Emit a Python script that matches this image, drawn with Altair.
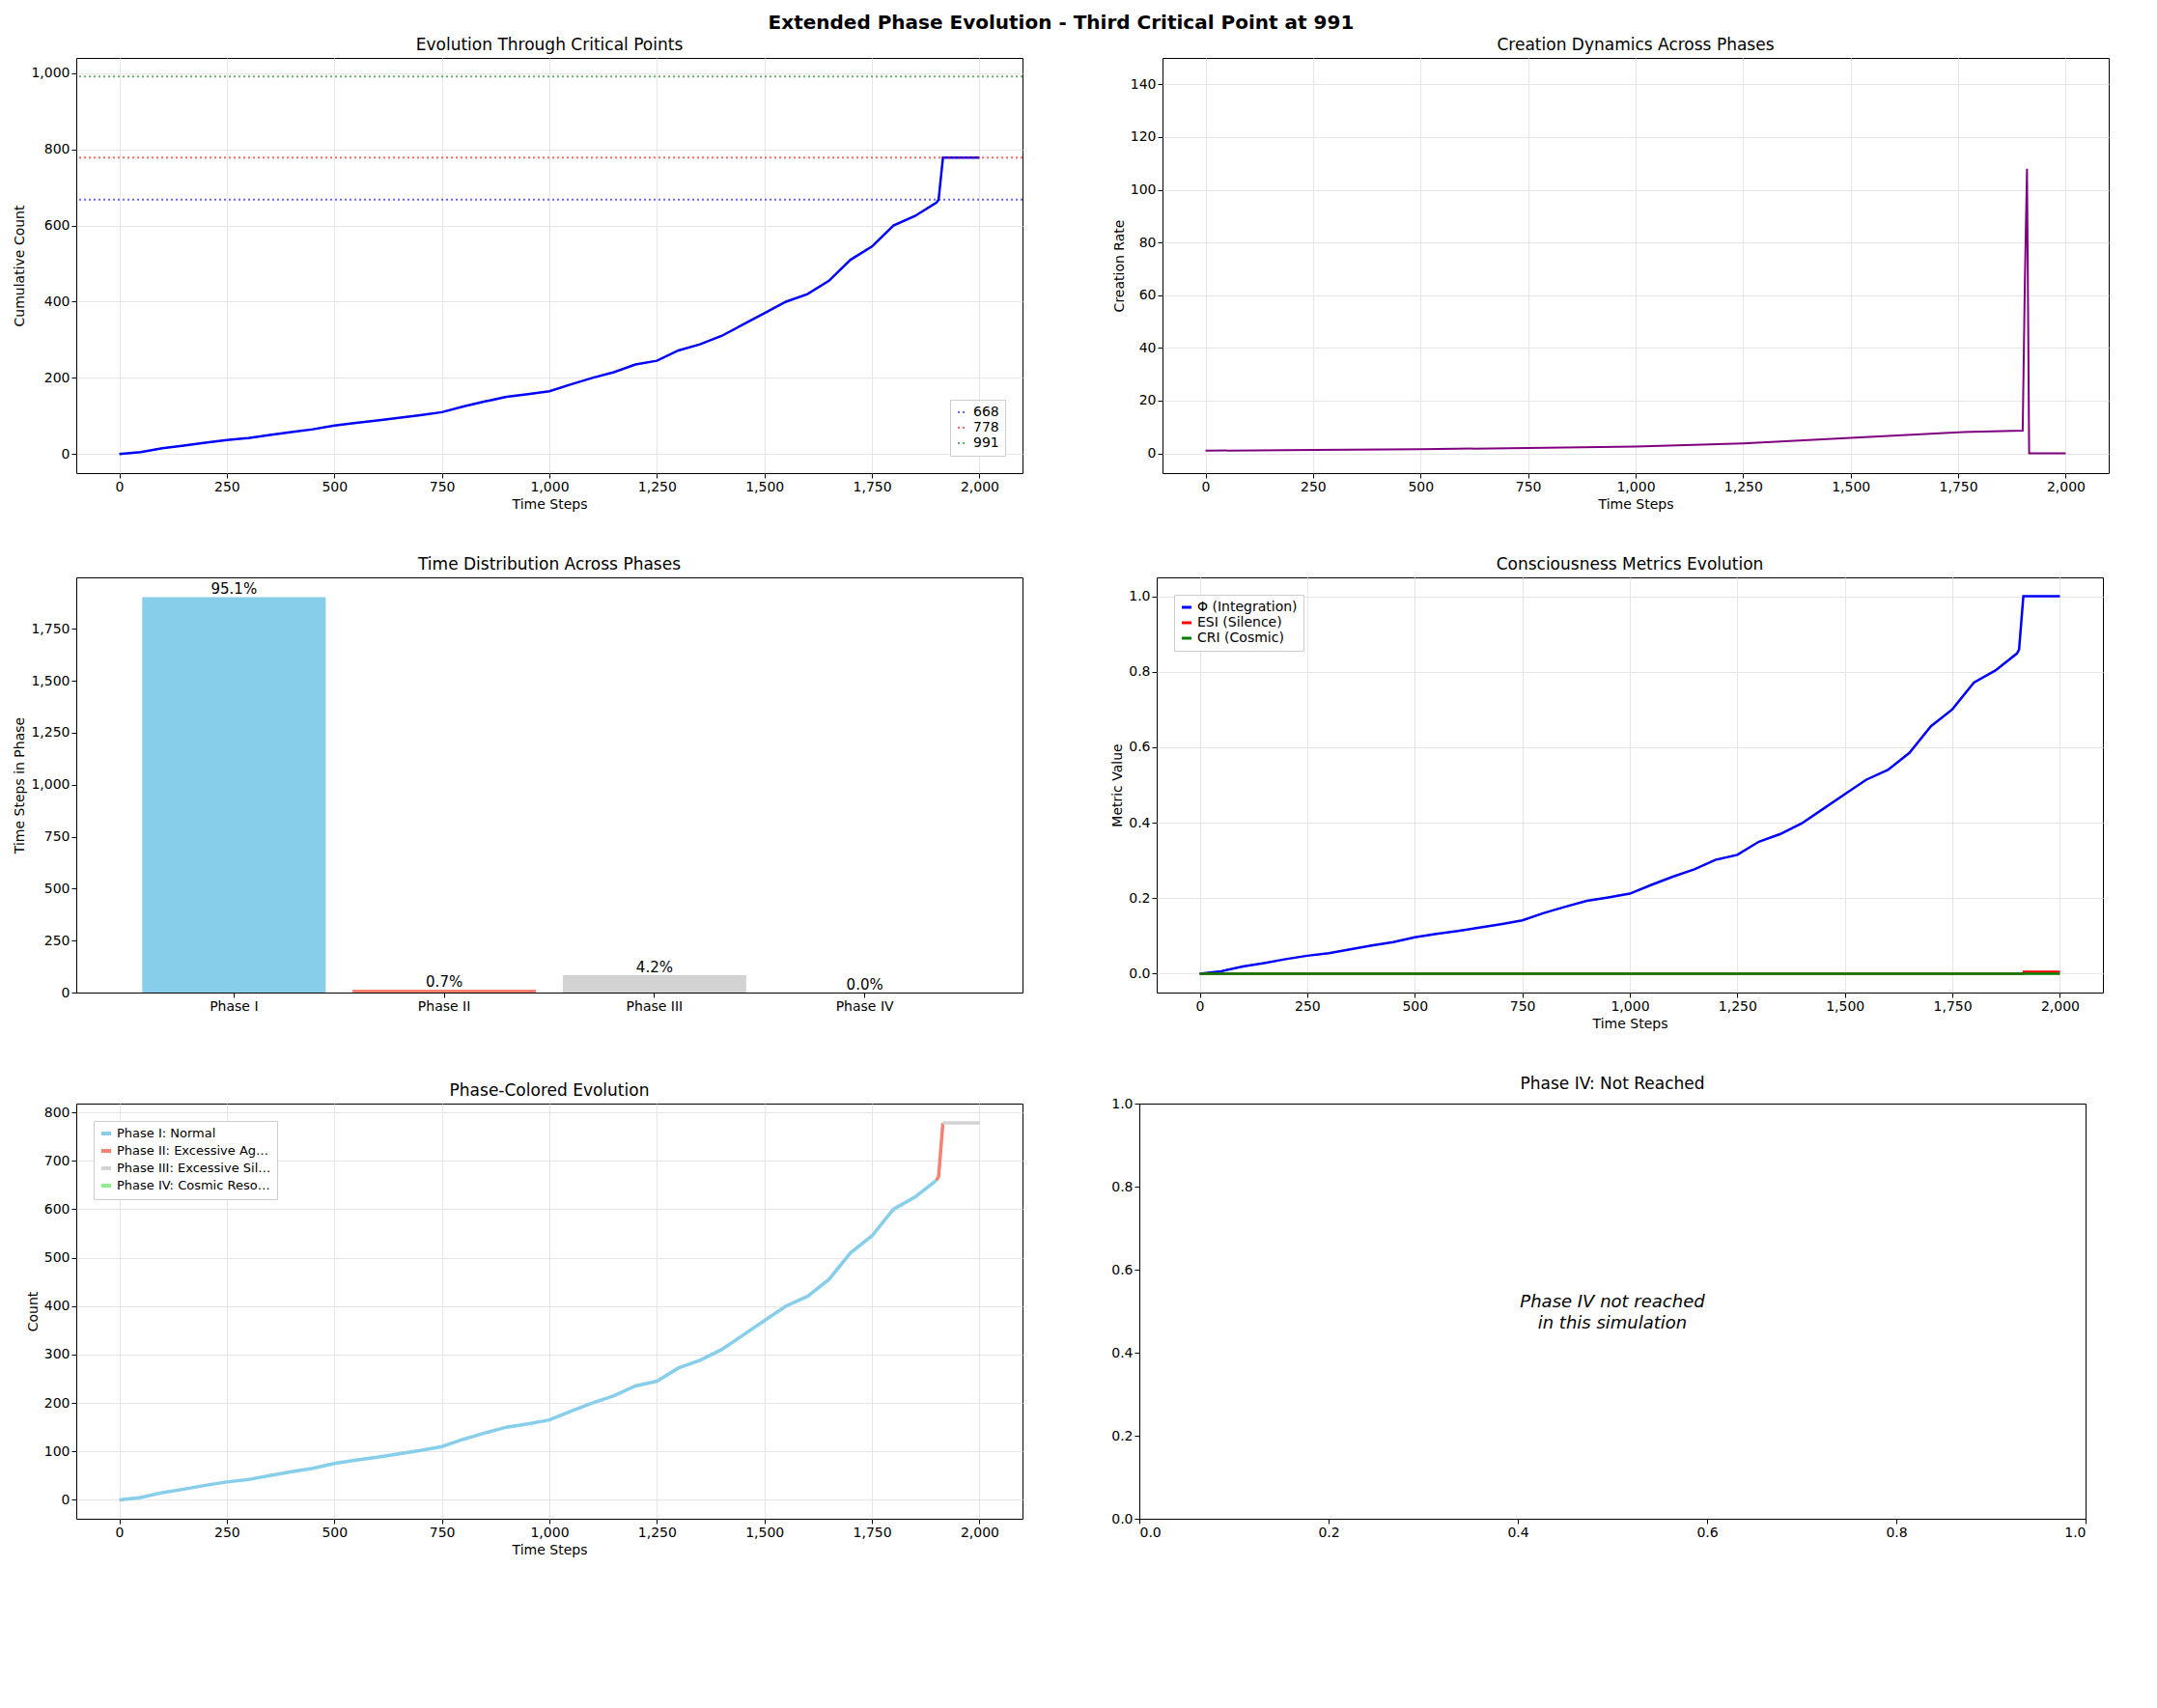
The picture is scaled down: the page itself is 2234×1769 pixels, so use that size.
import altair as alt
import pandas as pd

steps = [0,50,100,150,200,250,300,350,400,450,500,550,600,650,700,750,800,850,900,950,1000,1050,1100,1150,1200,1250,1300,1350,1400,1450,1500,1550,1600,1650,1700,1750,1800,1850,1900,1905,1915,2000]
count = [0,5,15,22,30,37,42,50,58,65,75,82,88,95,102,110,125,138,150,157,165,183,200,215,235,245,272,288,310,340,370,400,420,455,510,545,600,625,660,668,778,778]
rate_steps = [0,250,500,750,1000,1250,1500,1750,1900,1905,1910,1915,2000]
rate_vals = [1.0,1.3,1.6,2.0,2.6,3.8,5.9,8.0,8.6,65,108,0,0]
crit_vals = [668,778,991]
crit_labels = ["668","778","991"]
crit_colors = ["blue","red","green"]
phases = ["Phase I","Phase II","Phase III","Phase IV"]
phase_steps = [1902,14,84,0]
phase_pct = ["95.1%","0.7%","4.2%","0.0%"]
phase_colors = ["#87CEEB","#FA8072","#D3D3D3","#90EE90"]
phase_names = ["Phase I: Normal","Phase II: Excessive Agency","Phase III: Excessive Silence","Phase IV: Cosmic Resonance"]
phase_bounds = [(0,1902),(1902,1916),(1916,2000)]

W, H = 980, 430
FONT = "DejaVu Sans"
xs = alt.Scale(domain=[-100,2100], nice=False)
xax = alt.Axis(values=list(range(0,2001,250)), title="Time Steps", grid=True, gridColor="#e6e6e6")

def yax(t, **k):
    return alt.Axis(title=t, grid=True, gridColor="#e6e6e6", **k)

def props(c, title):
    return c.properties(width=W, height=H, title=alt.TitleParams(title, fontSize=17, fontWeight="normal"))

df = pd.DataFrame({"t": steps, "c": count, "phi": [v/778 for v in count]})

# Panel 1
rules = pd.DataFrame({"y": crit_vals, "lab": crit_labels})
l1 = alt.Chart(df).mark_line(color="blue", strokeWidth=2.5).encode(
    x=alt.X("t:Q", scale=xs, axis=xax),
    y=alt.Y("c:Q", scale=alt.Scale(domain=[-50,1040], nice=False), axis=yax("Cumulative Count", values=list(range(0,1001,200)))))
r1 = alt.Chart(rules).mark_rule(strokeDash=[2,3], opacity=0.6, strokeWidth=2).encode(
    y="y:Q",
    color=alt.Color("lab:N", scale=alt.Scale(domain=crit_labels, range=crit_colors),
                    legend=alt.Legend(title=None, orient="bottom-right", symbolType="stroke", symbolStrokeWidth=2, symbolDash=[2,3], labelFontSize=14, strokeColor="#ccc", fillColor="white", padding=6)))
p1 = props(alt.layer(l1, r1), "Evolution Through Critical Points")

# Panel 2
rdf = pd.DataFrame({"t": rate_steps, "r": rate_vals})
p2 = props(alt.Chart(rdf).mark_line(color="purple", strokeWidth=2).encode(
    x=alt.X("t:Q", scale=xs, axis=xax),
    y=alt.Y("r:Q", scale=alt.Scale(domain=[-7.5,150], nice=False), axis=yax("Creation Rate", values=list(range(0,141,20))))),
    "Creation Dynamics Across Phases")

# Panel 3
bdf = pd.DataFrame({"p": phases, "v": phase_steps, "pct": phase_pct})
b = alt.Chart(bdf).mark_bar(width=190).encode(
    x=alt.X("p:N", sort=phases, axis=alt.Axis(title=None, labelAngle=0, labelFontSize=14), scale=alt.Scale(paddingOuter=0.3)),
    y=alt.Y("v:Q", scale=alt.Scale(domain=[0,1997], nice=False), axis=alt.Axis(title="Time Steps in Phase", grid=False, values=list(range(0,1751,250)))),
    color=alt.Color("p:N", scale=alt.Scale(domain=phases, range=phase_colors), legend=None))
bt = alt.Chart(bdf).mark_text(dy=-8, fontSize=15, font=FONT).encode(
    x=alt.X("p:N", sort=phases), y="v:Q", text="pct:N")
p3 = props(alt.layer(b, bt), "Time Distribution Across Phases")

# Panel 4
mdf = pd.concat([
    pd.DataFrame({"t": steps, "v": df["phi"], "m": "Φ (Integration)"}),
    pd.DataFrame({"t": [0,1915,1916,2000], "v": [0,0,0.005,0.005], "m": "ESI (Silence)"}),
    pd.DataFrame({"t": [0,2000], "v": [0,0], "m": "CRI (Cosmic)"}),
])
mnames = ["Φ (Integration)","ESI (Silence)","CRI (Cosmic)"]
p4 = props(alt.Chart(mdf).mark_line(strokeWidth=2.5).encode(
    x=alt.X("t:Q", scale=xs, axis=xax),
    y=alt.Y("v:Q", scale=alt.Scale(domain=[-0.05,1.05], nice=False), axis=yax("Metric Value", values=[0,0.2,0.4,0.6,0.8,1.0], format=".1f")),
    color=alt.Color("m:N", sort=mnames, scale=alt.Scale(domain=mnames, range=["blue","red","green"]),
                    legend=alt.Legend(title=None, orient="top-left", symbolType="stroke", symbolStrokeWidth=3, labelFontSize=14, strokeColor="#ccc", fillColor="white", padding=6))),
    "Consciousness Metrics Evolution")

# Panel 5
rows = []
for name, (a, bnd) in zip(phase_names, phase_bounds):
    for t, c in zip(steps, count):
        if a <= t <= bnd or (t == 1900 and name == phase_names[1]) or (t == 1915 and name == phase_names[2]):
            rows.append({"t": t, "c": c, "ph": name})
pdf = pd.DataFrame(rows)
p5 = props(alt.Chart(pdf).mark_line(strokeWidth=3.5).encode(
    x=alt.X("t:Q", scale=xs, axis=xax),
    y=alt.Y("c:Q", scale=alt.Scale(domain=[-39,818], nice=False), axis=yax("Count", values=list(range(0,801,100)))),
    color=alt.Color("ph:N", sort=phase_names, scale=alt.Scale(domain=phase_names, range=phase_colors),
                    legend=alt.Legend(title=None, orient="top-left", symbolType="stroke", symbolStrokeWidth=4, labelFontSize=13, strokeColor="#ccc", fillColor="white", padding=6))),
    "Phase-Colored Evolution")

# Panel 6
tdf = pd.DataFrame({"x": [0.5, 0.5], "y": [0.52, 0.47], "s": ["Phase IV not reached", "in this simulation"]})
p6 = props(alt.Chart(tdf).mark_text(fontSize=18, fontStyle="italic", font=FONT).encode(
    x=alt.X("x:Q", scale=alt.Scale(domain=[0,1], nice=False), axis=alt.Axis(title=None, grid=False, values=[0,0.2,0.4,0.6,0.8,1.0], format=".1f")),
    y=alt.Y("y:Q", scale=alt.Scale(domain=[0,1], nice=False), axis=alt.Axis(title=None, grid=False, values=[0,0.2,0.4,0.6,0.8,1.0], format=".1f")),
    text="s:N"), "Phase IV: Not Reached")

chart = alt.vconcat(
    alt.hconcat(p1, p2, spacing=90).resolve_scale(color="independent"),
    alt.hconcat(p3, p4, spacing=90).resolve_scale(color="independent"),
    alt.hconcat(p5, p6, spacing=90).resolve_scale(color="independent"),
    spacing=45,
).resolve_scale(color="independent").properties(
    title=alt.TitleParams("Extended Phase Evolution - Third Critical Point at 991", fontSize=20, fontWeight="bold", anchor="middle")
).configure(font=FONT).configure_view(stroke="black", strokeWidth=1).configure_axis(
    labelFontSize=14, titleFontSize=14, titleFontWeight="normal", domain=False, tickColor="black", labelColor="black", titleColor="black")

chart.save("out.html", embed_options={"renderer": "svg", "actions": False})
